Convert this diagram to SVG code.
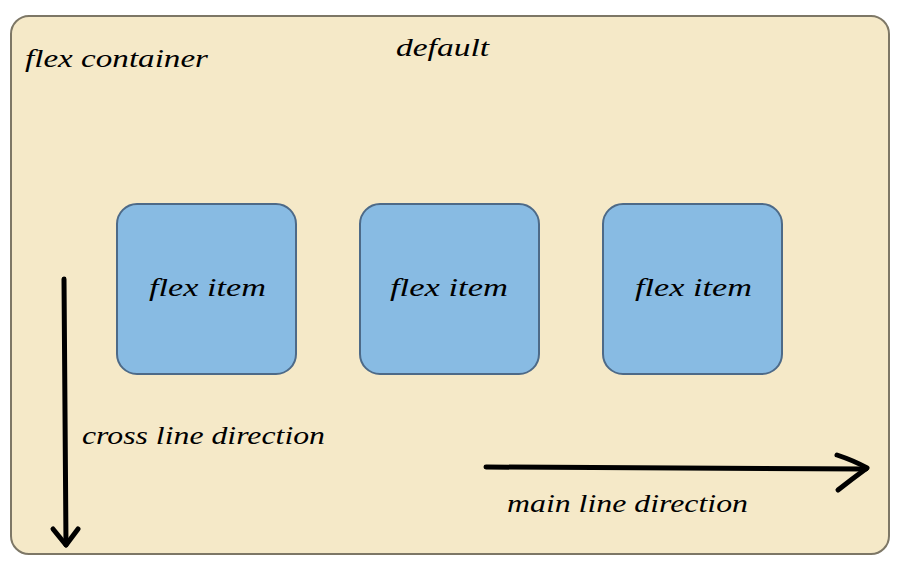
<svg xmlns="http://www.w3.org/2000/svg" width="902" height="578" viewBox="0 0 902 578">
  <style>
    .t { font-family: "Liberation Serif", "DejaVu Serif", serif; font-style: italic; font-size: 26px; fill: #000; }
    .item { fill: #88bbe3; stroke: #4d6a88; stroke-width: 2; }
    .arrow { fill: none; stroke: #000; stroke-width: 5; stroke-linecap: round; stroke-linejoin: round; }
  </style>
  <rect width="902" height="578" fill="#ffffff"/>
  <g id="container">
    <rect x="11" y="16" width="878" height="538" rx="18" ry="18" fill="#f5e9c8" stroke="#7d7766" stroke-width="2"/>
    <text class="t" x="25" y="67" textLength="183" lengthAdjust="spacingAndGlyphs">flex container</text>
    <text class="t" x="396" y="56" textLength="93" lengthAdjust="spacingAndGlyphs">default</text>
  </g>
  <g id="item1">
    <rect class="item" x="117" y="204" width="179" height="170" rx="20" ry="20"/>
    <text class="t" x="149" y="296" textLength="117" lengthAdjust="spacingAndGlyphs">flex item</text>
  </g>
  <g id="item2">
    <rect class="item" x="360" y="204" width="179" height="170" rx="20" ry="20"/>
    <text class="t" x="390" y="296" textLength="118" lengthAdjust="spacingAndGlyphs">flex item</text>
  </g>
  <g id="item3">
    <rect class="item" x="603" y="204" width="179" height="170" rx="20" ry="20"/>
    <text class="t" x="635" y="296" textLength="117" lengthAdjust="spacingAndGlyphs">flex item</text>
  </g>
  <g id="connectors">
    <path class="arrow" d="M64 279 L66 545"/>
    <path class="arrow" d="M53 529 L66 545 L78 529"/>
    <path class="arrow" d="M486 467 C650 467 760 469 866 469"/>
    <path class="arrow" d="M837 455 Q855 461 867 468 Q852 479 838 490"/>
  </g>
  <text class="t" x="82" y="444" textLength="243" lengthAdjust="spacingAndGlyphs">cross line direction</text>
  <text class="t" x="507" y="512" textLength="241" lengthAdjust="spacingAndGlyphs">main line direction</text>
</svg>
